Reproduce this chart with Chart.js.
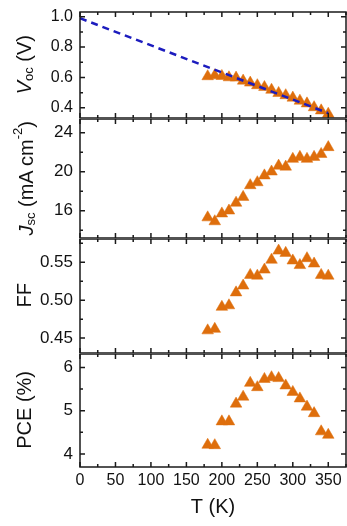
<!DOCTYPE html>
<html>
<head>
<meta charset="utf-8">
<script src="https://cdn.jsdelivr.net/npm/chart.js@4.4.1/dist/chart.umd.min.js"></script>
<style>
  body { margin: 0; background: #fff; }
  #wrap { position: relative; width: 347px; height: 526px; overflow: hidden; }
  .panel { position: absolute; left: 0; width: 347px; }
  .ytitle { position: absolute; left: 3px; width: 42px; display: flex; align-items: center; justify-content: center; }
  .ytitle span { writing-mode: vertical-rl; transform: rotate(180deg); font: 20px "Liberation Sans", Arial, sans-serif; color: #111; white-space: nowrap; }
  .ytitle sub, .ytitle sup { font-size: 13px; }
</style>
</head>
<body>
<div id="wrap">
  <div class="panel" style="top:0px;height:118px"><canvas id="vocChart"></canvas></div>
  <div class="panel" style="top:118px;height:120px"><canvas id="jscChart"></canvas></div>
  <div class="panel" style="top:238px;height:115px"><canvas id="ffChart"></canvas></div>
  <div class="panel" style="top:353px;height:173px"><canvas id="pceChart"></canvas></div>

  <div class="ytitle" style="top:12px;height:106px"><span><i>V</i><sub>oc</sub> (V)</span></div>
  <div class="ytitle" style="top:118px;height:120px"><span><i>J</i><sub>sc</sub> (mA cm<sup>-2</sup>)</span></div>
  <div class="ytitle" style="top:238px;height:115px"><span>FF</span></div>
  <div class="ytitle" style="top:353px;height:114px"><span>PCE (%)</span></div>
</div>

<script>
// temperature (K) of each measurement
const temps = [180, 190, 200, 210, 220, 230, 240, 250, 260, 270, 280, 290, 300, 310, 320, 330, 340, 350];
const voc = [0.607, 0.613, 0.609, 0.600, 0.598, 0.578, 0.565, 0.548, 0.536, 0.518, 0.497, 0.482, 0.466, 0.446, 0.428, 0.403, 0.382, 0.360];
const jsc = [15.3, 14.9, 15.7, 16.0, 16.8, 17.4, 18.6, 18.9, 19.6, 20.0, 20.6, 20.5, 21.3, 21.5, 21.3, 21.5, 21.8, 22.5];
const ff = [0.460, 0.462, 0.491, 0.493, 0.510, 0.519, 0.533, 0.532, 0.540, 0.553, 0.565, 0.562, 0.552, 0.546, 0.555, 0.548, 0.533, 0.532];
const pce = [4.21, 4.20, 4.75, 4.75, 5.16, 5.32, 5.64, 5.54, 5.73, 5.77, 5.75, 5.58, 5.43, 5.28, 5.09, 4.94, 4.52, 4.44];

// linear extrapolation of Voc to 0 K
const fitT = [0, 350];
const fitVoc = [0.99, 0.365];

// tick labels
const xTicks = [0, 50, 100, 150, 200, 250, 300, 350];
const vocTicks = [0.4, 0.6, 0.8, 1.0];
const jscTicks = [16, 20, 24];
const ffTicks = [0.45, 0.50, 0.55];
const pceTicks = [4, 5, 6];

const orange = 'rgb(222,110,12)';
const blue = 'rgb(28,28,190)';
const font = '"Liberation Sans", Arial, sans-serif';

// box around each panel with inward ticks on all four sides
const framePlugin = {
  id: 'frame',
  afterDraw(chart) {
    const { ctx, chartArea: a, scales } = chart;
    const x = scales.x, y = scales.y;
    ctx.save();
    ctx.strokeStyle = '#1a1a1a';
    ctx.lineWidth = 1.5;
    ctx.strokeRect(a.left, a.top, a.right - a.left, a.bottom - a.top);
    ctx.beginPath();
    for (let v = 0; v <= x.max; v += 25) {
      const px = x.getPixelForValue(v);
      const len = v % 50 === 0 ? 5 : 3;
      ctx.moveTo(px, a.top); ctx.lineTo(px, a.top + len);
      ctx.moveTo(px, a.bottom); ctx.lineTo(px, a.bottom - len);
    }
    const yt = y.ticks.map(t => t.value);
    const step = yt[1] - yt[0];
    for (let i = -4; i <= yt.length * 2 + 4; i++) {
      const v = yt[0] + i * step / 2;
      if (v < y.min || v > y.max) continue;
      const py = y.getPixelForValue(v);
      const len = i % 2 === 0 ? 5 : 3;
      ctx.moveTo(a.left, py); ctx.lineTo(a.left + len, py);
      ctx.moveTo(a.right, py); ctx.lineTo(a.right - len, py);
    }
    ctx.stroke();
    ctx.restore();
  }
};

function points(xs, ys) {
  return xs.map((t, i) => ({ x: t, y: ys[i] }));
}

function makePanel(id, opts) {
  const datasets = [];
  if (opts.fit) {
    datasets.push({
      data: points(fitT, fitVoc),
      showLine: true,
      borderColor: blue,
      borderWidth: 2.5,
      borderDash: [7, 5],
      pointRadius: 0
    });
  }
  datasets.push({
    data: points(temps, opts.values),
    pointStyle: 'triangle',
    pointRadius: 6.7,
    backgroundColor: orange,
    borderColor: orange,
    borderWidth: 0.5
  });

  return new Chart(document.getElementById(id), {
    type: 'scatter',
    data: { datasets },
    options: {
      responsive: true,
      maintainAspectRatio: false,
      animation: false,
      layout: { autoPadding: false, padding: { top: opts.padTop || 1, right: 1, bottom: 0, left: 0 } },
      plugins: { legend: { display: false }, tooltip: { enabled: false } },
      scales: {
        x: {
          type: 'linear',
          min: 0,
          max: 375,
          display: !!opts.showX,
          afterBuildTicks: s => { s.ticks = xTicks.map(v => ({ value: v })); },
          afterFit: s => {
            s.height = opts.showX ? 59 : 0;
            s.paddingLeft = 0; s.paddingRight = 0;
          },
          grid: { display: false, drawTicks: false },
          border: { display: false },
          ticks: { color: '#111', padding: 4, autoSkip: false, font: { family: font, size: 16 }, maxRotation: 0 },
          title: {
            display: !!opts.showX,
            text: 'T (K)',
            color: '#111',
            font: { family: font, size: 20 },
            padding: { top: 0, bottom: 7 }
          }
        },
        y: {
          type: 'linear',
          min: opts.min,
          max: opts.max,
          afterBuildTicks: s => { s.ticks = opts.ticks.map(v => ({ value: v })); },
          afterFit: s => {
            s.width = 80;
            s.paddingTop = 0; s.paddingBottom = 0;
          },
          grid: { display: false, drawTicks: false },
          border: { display: false },
          ticks: {
            color: '#111',
            padding: 7,
            autoSkip: false,
            font: { family: font, size: opts.fontSize || 17 },
            callback: v => Number(v).toFixed(opts.decimals)
          }
        }
      }
    },
    plugins: [framePlugin]
  });
}

makePanel('vocChart', { values: voc, fit: true, min: 0.333, max: 1.031, ticks: vocTicks, decimals: 1, fontSize: 16, padTop: 12 });
makePanel('jscChart', { values: jsc, min: 13.2, max: 25.4, ticks: jscTicks, decimals: 0 });
makePanel('ffChart', { values: ff, min: 0.4304, max: 0.5805, ticks: ffTicks, decimals: 2 });
makePanel('pceChart', { values: pce, min: 3.70, max: 6.31, ticks: pceTicks, decimals: 0, showX: true });
</script>
</body>
</html>
